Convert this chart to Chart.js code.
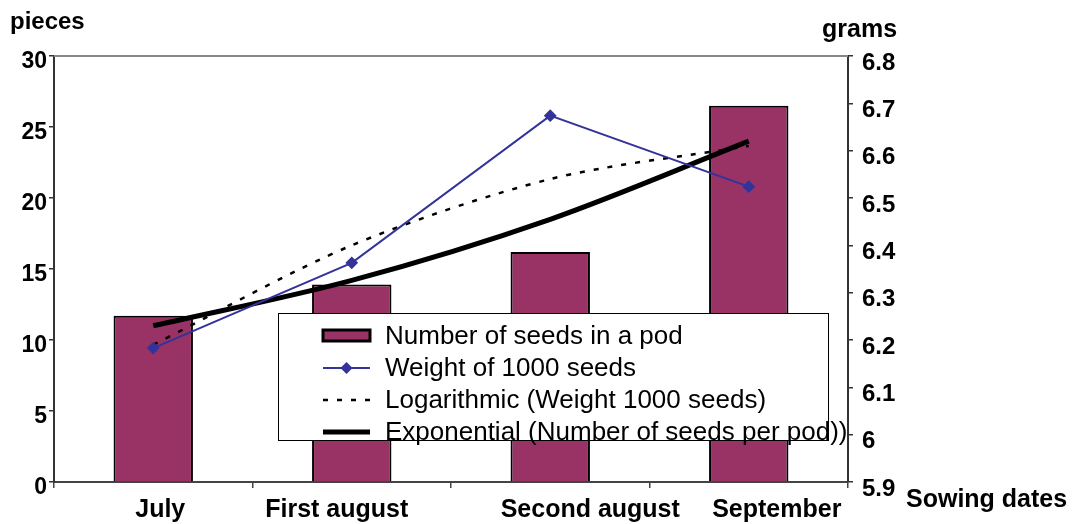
<!DOCTYPE html>
<html>
<head>
<meta charset="utf-8">
<script src="https://cdn.jsdelivr.net/npm/chart.js@4"></script>
<style>
  html, body { margin: 0; padding: 0; background: #fff; }
  #wrap { width: 1090px; height: 524px; }
</style>
</head>
<body>
<div id="wrap"><canvas id="chart" width="1090" height="524"></canvas></div>
<script>
// Data
const sowingDates = ['July', 'First august', 'Second august', 'September'];
const seedsPerPod = [11.7, 13.9, 16.2, 26.5];          // pieces, left axis
const weight1000 = [6.183, 6.363, 6.674, 6.524];        // grams, right axis
const logTrendWeight = [6.19, 6.40, 6.54, 6.61];        // grams, right axis
const expTrendSeeds = [11.0, 14.2, 18.5, 24.0];         // pieces, left axis
const legendLabels = [
    'Number of seeds in a pod',
    'Weight of 1000 seeds',
    'Logarithmic (Weight 1000 seeds)',
    'Exponential (Number of seeds per pod))'
];

const FONT = '"Liberation Sans", Arial, sans-serif';

// Legend box, axis titles, shifted date labels, top frame line
const decorPlugin = {
    id: 'decor',
    afterDatasetsDraw(chart) {
        const ctx = chart.ctx;
        const area = chart.chartArea;
        ctx.save();

        // top border of plot area
        ctx.strokeStyle = '#888';
        ctx.lineWidth = 2;
        ctx.beginPath();
        ctx.moveTo(area.left, area.top);
        ctx.lineTo(area.right, area.top);
        ctx.stroke();

        // legend box
        const bx = 278, by = 313, bw = 550, bh = 127;
        ctx.fillStyle = '#fff';
        ctx.fillRect(bx, by, bw, bh);
        ctx.strokeStyle = '#000';
        ctx.lineWidth = 1;
        ctx.strokeRect(bx + 0.5, by + 0.5, bw, bh);

        const ds = chart.data.datasets;
        const sx0 = 323, sx1 = 370, tx = 385;
        const rowY = [336, 368, 400, 432];
        ctx.font = '26px ' + FONT;
        ctx.textBaseline = 'middle';
        ctx.textAlign = 'left';
        rowY.forEach((y, i) => {
            const d = ds[i];
            if (i === 0) {
                ctx.fillStyle = d.backgroundColor;
                ctx.fillRect(sx0, y - 6, sx1 - sx0, 11);
                ctx.strokeStyle = '#000';
                ctx.lineWidth = 3;
                ctx.strokeRect(sx0, y - 6, sx1 - sx0, 11);
            } else {
                ctx.strokeStyle = d.borderColor;
                ctx.lineWidth = d.borderWidth;
                ctx.setLineDash(d.borderDash || []);
                ctx.beginPath();
                ctx.moveTo(sx0, y);
                ctx.lineTo(sx1, y);
                ctx.stroke();
                ctx.setLineDash([]);
                if (i === 1) {
                    const cx = (sx0 + sx1) / 2;
                    ctx.fillStyle = d.borderColor;
                    ctx.beginPath();
                    ctx.moveTo(cx, y - 6);
                    ctx.lineTo(cx + 6, y);
                    ctx.lineTo(cx, y + 6);
                    ctx.lineTo(cx - 6, y);
                    ctx.closePath();
                    ctx.fill();
                }
            }
            ctx.fillStyle = '#000';
            ctx.fillText(legendLabels[i], tx, y + 1);
        });

        // axis titles
        ctx.font = 'bold 24px ' + FONT;
        ctx.fillStyle = '#000';
        ctx.textAlign = 'left';
        ctx.fillText('pieces', 10, 22);
        ctx.font = 'bold 25px ' + FONT;
        ctx.fillText('grams', 822, 30);
        ctx.fillText('Sowing dates', 906, 500);

        // category labels (Excel drew them a little off centre)
        const nudge = [7, -15, 40, 28];
        const xs = chart.scales.x;
        ctx.font = 'bold 25px ' + FONT;
        ctx.textAlign = 'center';
        sowingDates.forEach((lab, i) => {
            ctx.fillText(lab, xs.getPixelForValue(i) + nudge[i], 510);
        });

        ctx.restore();
    }
};

const ctx = document.getElementById('chart').getContext('2d');
new Chart(ctx, {
    data: {
        labels: sowingDates,
        datasets: [
            {
                type: 'bar',
                label: legendLabels[0],
                data: seedsPerPod,
                yAxisID: 'y',
                backgroundColor: '#993366',
                borderColor: '#000',
                borderWidth: 2,
                barPercentage: 0.4,
                categoryPercentage: 1,
                order: 4
            },
            {
                type: 'line',
                label: legendLabels[1],
                data: weight1000,
                yAxisID: 'y1',
                borderColor: '#333399',
                backgroundColor: '#333399',
                borderWidth: 2,
                pointStyle: 'rectRot',
                pointRadius: 5,
                tension: 0,
                order: 1
            },
            {
                type: 'line',
                label: legendLabels[2],
                data: logTrendWeight,
                yAxisID: 'y1',
                borderColor: '#000',
                borderWidth: 2.5,
                borderDash: [5, 9],
                pointRadius: 0,
                tension: 0.3,
                order: 3
            },
            {
                type: 'line',
                label: legendLabels[3],
                data: expTrendSeeds,
                yAxisID: 'y',
                borderColor: '#000',
                borderWidth: 5,
                pointRadius: 0,
                cubicInterpolationMode: 'monotone',
                order: 2
            }
        ]
    },
    options: {
        responsive: false,
        animation: false,
        layout: { padding: { top: 56, left: 0, right: 0, bottom: 0 } },
        plugins: {
            legend: { display: false },
            tooltip: { enabled: false }
        },
        scales: {
            x: {
                offset: true,
                afterFit(scale) { scale.height = 42; },
                border: { color: '#444', width: 2 },
                grid: { offset: true, drawOnChartArea: false, tickLength: 6, color: '#444', lineWidth: 1.5 },
                ticks: { display: false }
            },
            y: {
                position: 'left',
                min: 0,
                max: 30,
                afterFit(scale) { scale.width = 54; },
                border: { color: '#333', width: 2 },
                grid: { drawOnChartArea: false, tickLength: 5, color: '#333', lineWidth: 1.5 },
                ticks: {
                    stepSize: 5,
                    padding: 2,
                    labelOffset: 6,
                    color: '#000',
                    font: { family: FONT, size: 23, weight: 'bold' }
                }
            },
            y1: {
                position: 'right',
                min: 5.9,
                max: 6.8,
                afterFit(scale) { scale.width = 242; },
                border: { color: '#333', width: 2 },
                grid: { drawOnChartArea: false, tickLength: 5, color: '#333', lineWidth: 1.5 },
                ticks: {
                    stepSize: 0.1,
                    padding: 9,
                    labelOffset: 7,
                    color: '#000',
                    font: { family: FONT, size: 24, weight: 'bold' },
                    callback: v => String(Number(v.toFixed(1)))
                }
            }
        }
    },
    plugins: [decorPlugin]
});
</script>
</body>
</html>
